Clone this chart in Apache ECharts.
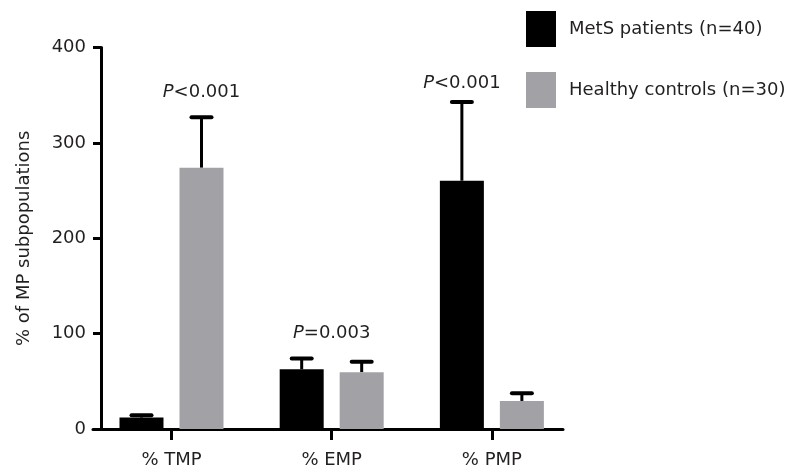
<!DOCTYPE html>
<html>
<head>
<meta charset="utf-8">
<script src="https://cdn.jsdelivr.net/npm/echarts@6/dist/echarts.min.js"></script>
<style>html,body{margin:0;padding:0;background:#fff}#c{width:791px;height:469px}</style>
</head>
<body>
<div id="c"></div>
<script>
const categories = ['% TMP', '% EMP', '% PMP'];
const seriesNames = ['MetS patients (n=40)', 'Healthy controls (n=30)'];
const metsMean = [12, 62.6, 260.4];
const metsUpper = [14.4, 74, 343];
const ctrlMean = [274, 59.5, 29.4];
const ctrlUpper = [327, 70.6, 37.4];
const pText = ['<0.001', '=0.003', '<0.001'];
const pAt = [353, 100, 363];          // label height (data units)
const pOver = [1, -1, 0];             // which bar the label sits over (-1 = group centre)
const yTicks = [0, 100, 200, 300, 400];

const BAR_W = 44, BAR_GAP = 16;
const OFF = (BAR_W + BAR_GAP) / 2;
const TXT = '#231f20';
const FONT = 'DejaVu Sans, sans-serif';
const FS = 18;
const colors = ['#000000', '#a2a1a6'];

function pairs(arr) { return arr.map((v, i) => [i, v]); }
function errData(mean, up) { return mean.map((v, i) => [i, v, up[i]]); }

function errRender(side) {
  return function (params, api) {
    const x = api.value(0);
    const p0 = api.coord([x, api.value(1)]);
    const p1 = api.coord([x, api.value(2)]);
    const cx = p0[0] + side * OFF;
    return {
      type: 'group',
      children: [
        { type: 'line', shape: { x1: cx, y1: p0[1], x2: cx, y2: p1[1] }, style: { stroke: '#000', lineWidth: 3 } },
        { type: 'line', shape: { x1: cx - 10, y1: p1[1], x2: cx + 10, y2: p1[1] }, style: { stroke: '#000', lineWidth: 4, lineCap: 'round' } }
      ]
    };
  };
}

const chart = echarts.init(document.getElementById('c'), null, { renderer: 'canvas' });
chart.setOption({
  animation: false,
  textStyle: { fontFamily: FONT },
  legend: {
    orient: 'vertical', left: 521, top: 6, itemWidth: 30, itemHeight: 36, itemGap: 25,
    icon: 'rect', selectedMode: false,
    textStyle: { fontSize: FS, color: TXT, fontFamily: FONT, padding: [0, 0, 0, 8] },
    data: seriesNames
  },
  grid: { left: 93, top: 47.6, width: 470, bottom: 40, containLabel: false },
  xAxis: {
    type: 'value', min: -0.49, max: 2.444,
    splitLine: { show: false },
    axisLine: { show: true, onZero: false, lineStyle: { color: '#000', width: 3 } },
    axisTick: { show: true, customValues: [0, 1, 2], length: 11, lineStyle: { color: '#000', width: 3 } },
    axisLabel: { customValues: [0, 1, 2], formatter: v => categories[Math.round(v)], fontSize: FS, color: TXT, margin: 22, fontFamily: FONT }
  },
  yAxis: {
    type: 'value', min: 0, max: 400, interval: 100, offset: -8,
    name: '% of MP subpopulations', nameLocation: 'middle', nameGap: 68, nameRotate: 90,
    nameTextStyle: { fontSize: FS, color: TXT, fontFamily: FONT },
    splitLine: { show: false },
    axisLine: { show: true, onZero: false, lineStyle: { color: '#000', width: 3 } },
    axisTick: { show: true, length: 8, lineStyle: { color: '#000', width: 3 } },
    axisLabel: { fontSize: FS, color: TXT, margin: 15, fontFamily: FONT, customValues: yTicks }
  },
  series: [
    { name: seriesNames[0], type: 'bar', data: pairs(metsMean), barWidth: BAR_W, barGap: (BAR_GAP / BAR_W * 100) + '%', itemStyle: { color: colors[0] }, z: 2 },
    { name: seriesNames[1], type: 'bar', data: pairs(ctrlMean), barWidth: BAR_W, barGap: (BAR_GAP / BAR_W * 100) + '%', itemStyle: { color: colors[1] }, z: 2 },
    { type: 'custom', data: errData(metsMean, metsUpper), renderItem: errRender(-1), z: 1, encode: { x: 0, y: [1, 2] } },
    { type: 'custom', data: errData(ctrlMean, ctrlUpper), renderItem: errRender(1), z: 1, encode: { x: 0, y: [1, 2] } },
    {
      type: 'custom', z: 3,
      data: pText.map((t, i) => [i, pAt[i], pOver[i]]),
      encode: { x: 0, y: 1 },
      renderItem: function (params, api) {
        const i = params.dataIndex;
        const pt = api.coord([api.value(0), api.value(1)]);
        const side = pOver[i] < 0 ? 0 : (pOver[i] === 0 ? -1 : 1);
        return {
          type: 'text',
          x: pt[0] + side * OFF, y: pt[1],
          style: {
            text: '{i|P}{n|' + pText[i] + '}',
            align: 'center', verticalAlign: 'middle',
            rich: {
              i: { fontStyle: 'italic', fontSize: FS, fill: TXT, fontFamily: FONT },
              n: { fontSize: FS, fill: TXT, fontFamily: FONT }
            }
          }
        };
      }
    }
  ]
});
</script>
</body>
</html>
